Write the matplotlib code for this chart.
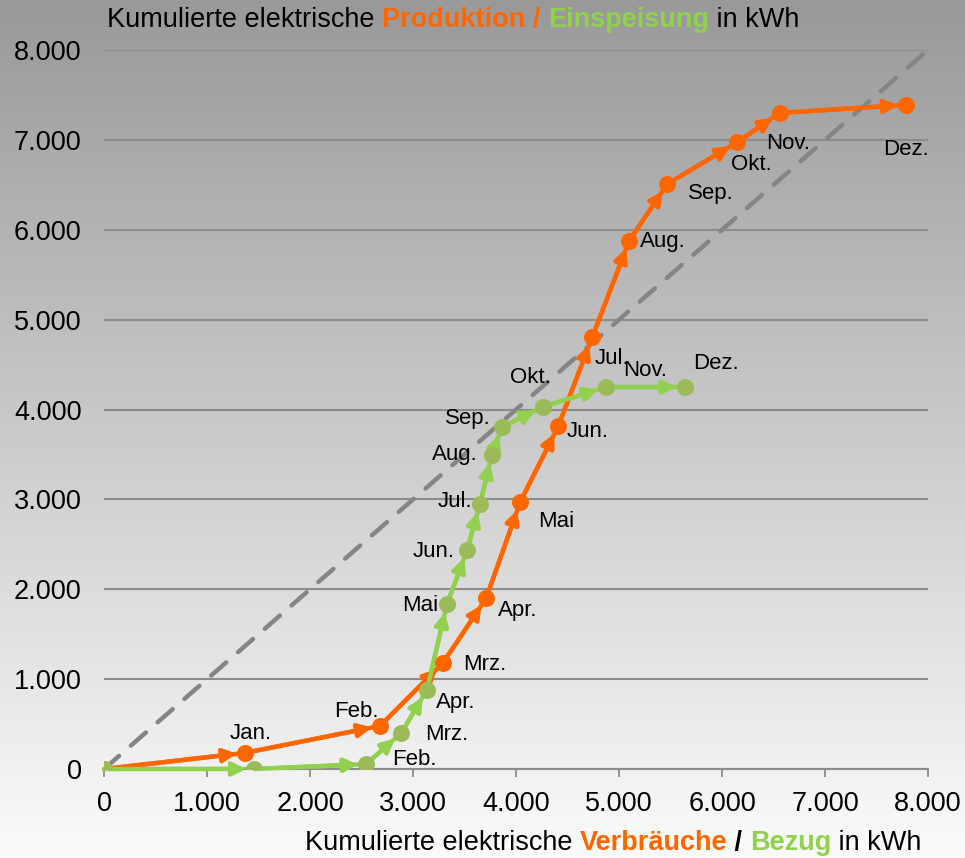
import matplotlib.pyplot as plt
import numpy as np
from matplotlib.ticker import FuncFormatter

plt.switch_backend('agg')

# cumulative consumption (x) vs production (y), kWh
monate = ['Jan.', 'Feb.', 'Mrz.', 'Apr.', 'Mai', 'Jun.', 'Jul.', 'Aug.',
          'Sep.', 'Okt.', 'Nov.', 'Dez.']
verbrauch = [0, 1370, 2680, 3290, 3710, 4040, 4410, 4740, 5100, 5470, 6150, 6560, 7790]
produktion = [0, 180, 480, 1180, 1900, 2970, 3815, 4805, 5880, 6510, 6975, 7300, 7390]

# cumulative grid draw (x) vs feed-in (y), kWh
bezug = [0, 1460, 2545, 2885, 3135, 3330, 3525, 3650, 3765, 3865, 4260, 4875, 5640]
einspeisung = [0, 0, 55, 400, 880, 1835, 2435, 2950, 3495, 3805, 4030, 4250, 4250]

# label offsets in points, one per month
off_prod = [(4, 14), (-17, 10), (30, -1), (23, -9), (26, -14), (21, -4),
            (14, -15), (24, -1), (31, -7), (10, -16), (6, -22), (0, -32)]
off_einsp = [None, (35, 3), (33, -1), (21, -9), (-19, -1), (-24, -1),
             (-18, 2), (-27, 0), (-25, 6), (-9, 21), (28, 12), (22, 17)]

ORANGE = '#ff6600'
GREEN = '#92d050'
GREEN_DOT = '#9bbb59'

plt.rcParams['font.family'] = ['Liberation Sans', 'DejaVu Sans']

fig = plt.figure(figsize=(9.65, 8.58), dpi=100)

# grey-to-white background gradient over the whole figure
bg = fig.add_axes([0, 0, 1, 1], zorder=-10)
grad = np.linspace(0.60, 0.985, 256).reshape(-1, 1)
bg.imshow(np.dstack([grad] * 3), aspect='auto', extent=[0, 1, 0, 1], origin='upper')
bg.axis('off')

ax = fig.add_axes([0.1078, 0.1037, 0.8539, 0.838])
ax.patch.set_visible(False)
ax.set_xlim(0, 8000)
ax.set_ylim(0, 8000)

ax.plot([0, 8000], [0, 8000], color='#858585', lw=3.2, ls=(0, (4.5, 3.5)),
        zorder=2, solid_capstyle='round', dash_capstyle='round')


def serie(xs, ys, line_color, dot_color, labels, offsets):
    ax.plot(xs, ys, color=line_color, lw=3.2, zorder=3)
    for i in range(len(xs) - 1):
        ax.annotate('', xy=(xs[i + 1], ys[i + 1]), xytext=(xs[i], ys[i]),
                    arrowprops=dict(arrowstyle='-|>,head_length=0.8,head_width=0.4',
                                    color=line_color, lw=3.2, shrinkA=0, shrinkB=6),
                    zorder=4)
    ax.scatter(xs, ys, s=150, color=dot_color, zorder=5, linewidths=0)
    for i, lab in enumerate(labels):
        if offsets[i] is None:
            continue
        ax.annotate(lab, (xs[i + 1], ys[i + 1]), xytext=offsets[i],
                    textcoords='offset points', ha='center', va='center',
                    fontsize=16, zorder=6)


serie(verbrauch, produktion, ORANGE, ORANGE, monate, off_prod)
serie(bezug, einspeisung, GREEN, GREEN_DOT, monate, off_einsp)

fmt = FuncFormatter(lambda v, p: f'{int(v):,}'.replace(',', '.'))
ax.set_xticks(np.arange(0, 8001, 1000))
ax.set_yticks(np.arange(0, 8001, 1000))
ax.xaxis.set_major_formatter(fmt)
ax.yaxis.set_major_formatter(fmt)
ax.tick_params(axis='x', length=6, width=1.3, color='#8c8c8c', labelsize=19.5, pad=10)
ax.tick_params(axis='y', length=0, labelsize=19.5, pad=16)
ax.grid(axis='y', color='#8c8c8c', lw=1.5, zorder=1)
for s in ('top', 'right', 'left'):
    ax.spines[s].set_visible(False)
ax.spines['bottom'].set_color('#8c8c8c')
ax.spines['bottom'].set_linewidth(1.5)


def bunter_text(x, y, parts, size):
    # place coloured text pieces one after another
    r = fig.canvas.get_renderer()
    for txt, col, bold in parts:
        t = fig.text(x, y, txt, color=col, fontsize=size, va='center',
                     fontweight='bold' if bold else 'normal')
        bb = t.get_window_extent(renderer=r)
        x += bb.width / fig.bbox.width


bunter_text(0.111, 0.977, [('Kumulierte elektrische ', 'black', False),
                           ('Produktion / ', ORANGE, True),
                           ('Einspeisung', GREEN, True),
                           (' in kWh', 'black', False)], 19.5)
bunter_text(0.316, 0.017, [('Kumulierte elektrische ', 'black', False),
                           ('Verbräuche', ORANGE, True),
                           (' / ', 'black', True),
                           ('Bezug', GREEN, True),
                           (' in kWh', 'black', False)], 19.5)

fig.savefig('out.png', dpi=100)
plt.close('all')
